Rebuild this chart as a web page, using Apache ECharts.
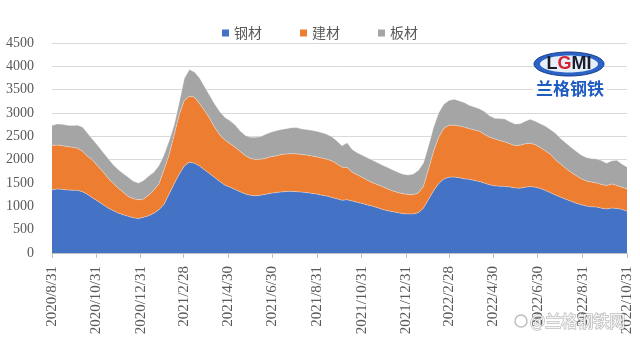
<!DOCTYPE html>
<html>
<head>
<meta charset="utf-8">
<script src="https://cdn.jsdelivr.net/npm/echarts@6/dist/echarts.min.js"></script>
<style>
  html, body { margin: 0; padding: 0; background: #ffffff; }
  #chart { width: 640px; height: 346px; }
</style>
</head>
<body>
<div id="chart"></div>
<script>
// Weekly inventory, stacked by product group (Mondays, 2020/8/31 .. 2022/10/31)
const seriesNames = ['钢材', '建材', '板材'];
const seriesColors = ['#4472C4', '#ED7D31', '#A5A5A5'];
const firstWeek = [2020, 8, 31];
const tickLabels = ['2020/8/31', '2020/10/31', '2020/12/31', '2021/2/28', '2021/4/30', '2021/6/30',
  '2021/8/31', '2021/10/31', '2021/12/31', '2022/2/28', '2022/4/30', '2022/6/30', '2022/8/31', '2022/10/31'];
const yTicks = { min: 0, max: 4500, step: 500 };

const steel = [
  1357, 1371, 1365, 1350, 1345, 1343, 1310, 1255, 1180, 1110,
  1040, 964, 910, 857, 820, 785, 755, 738, 765, 800,
  850, 925, 1040, 1260, 1480, 1690, 1865, 1945, 1925, 1865,
  1780, 1700, 1615, 1530, 1452, 1410, 1360, 1310, 1265, 1235,
  1228, 1240, 1258, 1280, 1295, 1308, 1318, 1321, 1315, 1305,
  1295, 1278, 1265, 1240, 1220, 1190, 1160, 1130, 1140, 1115,
  1085, 1060, 1030, 1003, 970, 932, 905, 885, 865, 842,
  838, 835, 865, 960, 1150, 1335, 1490, 1585, 1625, 1628,
  1615, 1590, 1580, 1555, 1530, 1497, 1460, 1440, 1430, 1428,
  1415, 1395, 1390, 1410, 1425, 1410, 1380, 1340, 1290, 1240,
  1195, 1150, 1110, 1065, 1035, 1005, 990, 985, 960, 945,
  962, 955, 935, 895
];
const build = [
  949, 942, 935, 930, 920, 902, 870, 815, 810, 750,
  705, 643, 585, 536, 480, 425, 410, 402, 390, 440,
  500, 550, 740, 840, 1045, 1272, 1405, 1415, 1415, 1335,
  1270, 1180, 1070, 995, 963, 930, 905, 865, 820, 790,
  777, 770, 772, 785, 785, 802, 802, 807, 810, 807,
  805, 802, 795, 795, 790, 785, 750, 710, 690, 615,
  590, 560, 530, 502, 495, 486, 465, 445, 430, 428,
  417, 417, 421, 470, 650, 845, 990, 1085, 1115, 1112,
  1105, 1110, 1085, 1080, 1080, 1043, 1020, 1005, 980, 952,
  925, 905, 920, 930, 925, 910, 875, 845, 820, 750,
  705, 660, 620, 595, 555, 540, 530, 515, 510, 500,
  518, 490, 475, 480
];
const plate = [
  428, 452, 460, 460, 465, 495, 520, 495, 440, 445,
  420, 423, 400, 397, 405, 415, 370, 360, 400, 410,
  380, 395, 320, 300, 215, 262, 470, 570, 540, 550,
  515, 495, 505, 500, 490, 495, 480, 440, 435, 455,
  475, 485, 515, 525, 540, 535, 545, 557, 565, 548,
  545, 550, 550, 545, 535, 515, 490, 460, 530, 490,
  475, 475, 480, 485, 470, 462, 460, 450, 435, 420,
  417, 440, 484, 500, 500, 520, 525, 515, 530, 555,
  540, 525, 500, 495, 480, 490, 460, 440, 470, 490,
  470, 465, 460, 485, 515, 505, 515, 530, 530, 570,
  550, 548, 537, 520, 510, 500, 505, 515, 510, 480,
  495, 545, 495, 470
];

// One category per calendar day, so spacing follows the calendar
function fmt(d) { return d.getUTCFullYear() + '/' + (d.getUTCMonth() + 1) + '/' + d.getUTCDate(); }
const DAY = 86400000;
const origin = Date.UTC(firstWeek[0], firstWeek[1] - 1, firstWeek[2]);
const lastDay = Date.UTC(2022, 9, 31);
const days = [];
for (let t = origin; t <= lastDay; t += DAY) days.push(fmt(new Date(t)));
const weekDates = steel.map((_, i) => fmt(new Date(origin + 7 * i * DAY)));
const tickSet = new Set(tickLabels);
const isTick = (idx, val) => tickSet.has(val);

const valuesBySeries = [steel, build, plate];
const axisFont = 'Liberation Serif';
const textGray = '#595959';

const chart = echarts.init(document.getElementById('chart'), null, { renderer: 'canvas' });
chart.setOption({
  animation: false,
  backgroundColor: '#ffffff',
  grid: { left: 52, right: 13, top: 43, bottom: 93 },
  legend: {
    data: seriesNames.map((n, i) => ({ name: n, itemStyle: { color: seriesColors[i] } })),
    top: 21,
    left: 'center',
    icon: 'rect',
    itemWidth: 7,
    itemHeight: 7,
    itemGap: 38,
    textStyle: { color: textGray, fontSize: 14, fontFamily: 'Noto Sans CJK SC' }
  },
  xAxis: {
    type: 'category',
    data: days,
    boundaryGap: false,
    axisLine: { show: true, lineStyle: { color: '#bfbfbf', width: 1 } },
    axisTick: { show: true, length: 5, lineStyle: { color: '#bfbfbf' }, interval: isTick, alignWithLabel: true },
    splitLine: { show: false },
    axisLabel: {
      interval: isTick,
      rotate: 90,
      margin: 13,
      color: textGray,
      fontSize: 15,
      fontFamily: axisFont,
      hideOverlap: false
    }
  },
  yAxis: {
    type: 'value',
    min: yTicks.min,
    max: yTicks.max,
    interval: yTicks.step,
    axisLine: { show: false },
    axisTick: { show: false },
    splitLine: { lineStyle: { color: '#d9d9d9', width: 1 } },
    axisLabel: { color: textGray, fontSize: 14, fontFamily: axisFont, margin: 18, formatter: v => String(v) }
  },
  series: seriesNames.map((name, k) => ({
    name: name,
    type: 'line',
    stack: 'total',
    showSymbol: false,
    symbol: 'none',
    connectNulls: true,
    itemStyle: { color: seriesColors[k] },
    lineStyle: { width: 1, color: 'rgba(255,255,255,0.35)' },
    areaStyle: { color: seriesColors[k], opacity: 1 },
    data: weekDates.map((d, i) => [d, valuesBySeries[k][i]])
  })),
  graphic: [
    { type: 'ellipse', z: 100, shape: { cx: 569, cy: 64, rx: 35, ry: 12 },
      style: { fill: '#2b63c6', stroke: '#163f8c', lineWidth: 1 } },
    { type: 'ellipse', z: 101, shape: { cx: 569, cy: 64, rx: 29, ry: 8.5 },
      style: { fill: '#e6eef9' } },
    { type: 'text', z: 102, x: 569, y: 64,
      style: {
        text: '{a|L}{b|G}{a|MI}',
        align: 'center', verticalAlign: 'middle',
        rich: {
          a: { fontSize: 18, fontWeight: 'bold', fontFamily: 'Liberation Sans', fill: '#1b1b2a' },
          b: { fontSize: 18, fontWeight: 'bold', fontFamily: 'Liberation Sans', fill: '#d8222c' }
        }
      } },
    { type: 'text', z: 102, x: 570, y: 89,
      style: {
        text: '兰格钢铁', align: 'center', verticalAlign: 'middle',
        fontSize: 17, fontWeight: 'bold', fontFamily: 'Noto Sans CJK SC',
        fill: '#1f5cc0', backgroundColor: '#ffffff', padding: [1, 3]
      } },
    { type: 'circle', z: 100, shape: { cx: 521, cy: 321, r: 6 },
      style: { fill: 'rgba(255,255,255,0.85)', stroke: 'rgba(110,110,110,0.45)', lineWidth: 1.5 } },
    { type: 'text', z: 100, x: 530, y: 321,
      style: {
        text: '@兰格钢铁网', verticalAlign: 'middle',
        fontSize: 16, fontFamily: 'Noto Sans CJK SC',
        fill: 'rgba(255,255,255,0.88)', stroke: 'rgba(110,110,110,0.45)', lineWidth: 1.5
      } }
  ]
});
</script>
</body>
</html>
